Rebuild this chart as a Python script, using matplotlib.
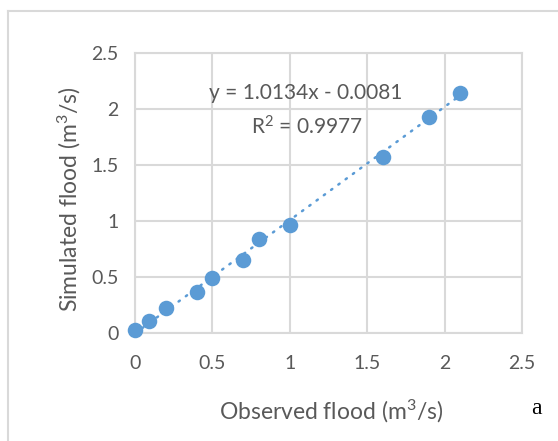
import numpy as np
import matplotlib
matplotlib.use("Agg")
import matplotlib.pyplot as plt
from matplotlib.lines import Line2D

observed = [0.0, 0.09, 0.2, 0.4, 0.5, 0.7, 0.8, 1.0, 1.6, 1.9, 2.1]
simulated = [0.02, 0.10, 0.22, 0.36, 0.49, 0.65, 0.84, 0.96, 1.57, 1.93, 2.14]
slope, intercept = 1.0134, -0.0081
eq_text = "y = 1.0134x - 0.0081"
r2_text = "R$^2$ = 0.9977"
ticks = [0, 0.5, 1, 1.5, 2, 2.5]
tick_labels = ["0", "0.5", "1", "1.5", "2", "2.5"]

W, H = 558, 441
fig = plt.figure(figsize=(W / 100, H / 100), dpi=100)
plt.rcParams['font.family'] = ['Lato', 'DejaVu Sans']
plt.rcParams['mathtext.fontset'] = 'custom'
plt.rcParams['mathtext.rm'] = 'Lato'
plt.rcParams['mathtext.it'] = 'Lato'
plt.rcParams['mathtext.default'] = 'regular'

ax = fig.add_axes([135 / W, 1 - 332.5 / H, (522 - 135) / W, (332.5 - 53) / H])
blue = "#5B9BD5"
grid_c = "#D9D9D9"
text_c = "#595959"

xs = np.array([min(observed), max(observed)])
ax.plot(xs, slope * xs + intercept, color=blue, lw=1.8,
        linestyle=(0, (0.6, 3.0)), dash_capstyle='round', zorder=2)
ax.scatter(observed, simulated, s=125, color=blue, zorder=3, clip_on=False,
           linewidths=0)

ax.set_xlim(0, 2.5)
ax.set_ylim(0, 2.5)
ax.set_xticks(ticks)
ax.set_yticks(ticks)
ax.set_xticklabels(tick_labels)
ax.set_yticklabels(tick_labels)
ax.grid(True, color=grid_c, lw=1.5)
ax.set_axisbelow(True)
for s in ax.spines.values():
    s.set_color(grid_c)
    s.set_linewidth(1.5)
ax.tick_params(length=0, labelsize=14, colors=text_c, pad=12)
ax.tick_params(axis='x', pad=16)

fig.text(331 / W, 1 - 411 / H, "Observed flood (m$^3$/s)", ha='center', va='center',
         fontsize=16.5, color=text_c)
fig.text(69 / W, 1 - 199 / H, "Simulated flood (m$^3$/s)", ha='center', va='center',
         rotation=90, fontsize=16.5, color=text_c)
fig.text(306 / W, 1 - 93 / H, eq_text, ha='center', va='center', fontsize=15,
         color=text_c)
fig.text(307 / W, 1 - 127 / H, r2_text, ha='center', va='center', fontsize=15,
         color=text_c)
fig.text(536 / W, 1 - 409 / H, "a", ha='center', va='center', fontsize=17,
         family='Liberation Serif', color='black')

fig.add_artist(Line2D([8 / W, 8 / W], [0, 1 - 11 / H], color=grid_c, lw=1.5,
                      transform=fig.transFigure))
fig.add_artist(Line2D([8 / W, 1], [1 - 11 / H, 1 - 11 / H], color=grid_c, lw=1.5,
                      transform=fig.transFigure))

fig.savefig("out.png", dpi=100)
